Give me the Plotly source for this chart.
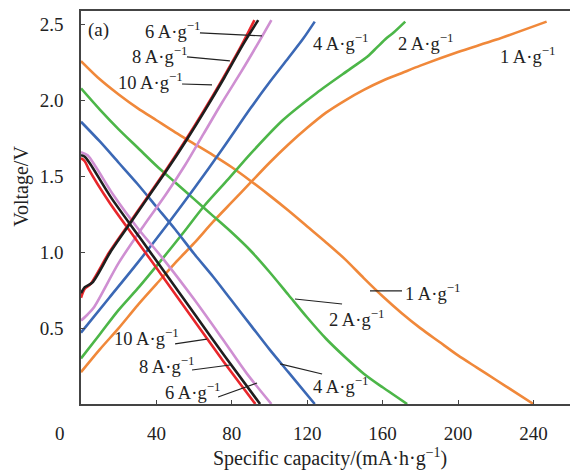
import plotly.graph_objects as go

# ---------------- data ----------------
# 1 A/g (orange)
c1_chg_x = [0, 10, 20, 30, 40, 50, 60, 70, 80, 90, 100, 110, 120, 130, 140, 150, 160, 170, 180, 200, 220, 247]
c1_chg_v = [0.21, 0.36, 0.50, 0.65, 0.79, 0.93, 1.06, 1.20, 1.33, 1.46, 1.59, 1.71, 1.82, 1.92, 2.00, 2.07, 2.13, 2.18, 2.23, 2.32, 2.40, 2.52]
c1_dis_x = [0, 10, 20, 30, 40, 50, 60, 70, 80, 90, 100, 110, 120, 130, 140, 150, 160, 170, 180, 190, 200, 210, 220, 230, 240]
c1_dis_v = [2.26, 2.14, 2.04, 1.95, 1.87, 1.79, 1.715, 1.64, 1.56, 1.47, 1.375, 1.275, 1.17, 1.065, 0.955, 0.83, 0.71, 0.60, 0.50, 0.41, 0.32, 0.24, 0.16, 0.08, 0.0]
# 2 A/g (green)
c2_chg_x = [0, 10, 20, 30, 44, 55, 65, 78, 90, 107, 125, 143, 152, 157, 162, 166, 172]
c2_chg_v = [0.30, 0.46, 0.62, 0.76, 0.97, 1.14, 1.30, 1.48, 1.65, 1.87, 2.05, 2.21, 2.29, 2.35, 2.41, 2.45, 2.52]
c2_dis_x = [0, 10, 20, 30, 40, 50, 60, 70, 80, 90, 100, 110, 120, 130, 140, 150, 160, 173]
c2_dis_v = [2.08, 1.94, 1.81, 1.69, 1.57, 1.46, 1.35, 1.24, 1.13, 1.01, 0.87, 0.72, 0.57, 0.43, 0.31, 0.20, 0.11, 0.0]
# 4 A/g (blue)
c4_chg_x = [0, 15, 30, 45, 60, 75, 90, 100, 110, 118, 124]
c4_chg_v = [0.47, 0.70, 0.93, 1.17, 1.42, 1.68, 1.95, 2.12, 2.28, 2.41, 2.52]
c4_dis_x = [0, 10, 20, 30, 40, 50, 60, 70, 80, 90, 100, 110, 124]
c4_dis_v = [1.86, 1.73, 1.59, 1.45, 1.30, 1.15, 0.99, 0.84, 0.68, 0.52, 0.36, 0.21, 0.0]
# 6 A/g (violet)
c6_chg_x = [0, 3.5, 7, 20, 33, 45, 55, 65, 75, 85, 95, 101]
c6_chg_v = [0.55, 0.59, 0.64, 0.93, 1.17, 1.38, 1.57, 1.78, 1.99, 2.19, 2.40, 2.53]
c6_dis_x = [0, 3.5, 8, 17, 30, 44, 60, 75, 88, 101]
c6_dis_v = [1.66, 1.64, 1.56, 1.38, 1.16, 0.95, 0.69, 0.43, 0.20, 0.0]
# 8 A/g (black)
c8_chg_x = [0, 2, 6, 16, 26, 36, 46, 56, 66, 76, 86, 94]
c8_chg_v = [0.73, 0.77, 0.80, 1.01, 1.19, 1.37, 1.55, 1.74, 1.94, 2.15, 2.37, 2.53]
c8_dis_x = [0, 2, 5, 16, 31, 46, 61, 76, 95]
c8_dis_v = [1.64, 1.63, 1.58, 1.36, 1.10, 0.84, 0.58, 0.32, 0.0]
# 10 A/g (red)
c10_chg_x = [0, 2, 5, 15, 25, 35, 45, 55, 65, 75, 85, 92]
c10_chg_v = [0.70, 0.76, 0.79, 1.00, 1.18, 1.36, 1.54, 1.73, 1.93, 2.14, 2.36, 2.53]
c10_dis_x = [0, 2, 4, 15, 30, 45, 60, 75, 92.5]
c10_dis_v = [1.62, 1.60, 1.55, 1.33, 1.07, 0.81, 0.55, 0.29, 0.0]

x_ticks = [40, 80, 120, 160, 200, 240]
y_ticks = [0.5, 1.0, 1.5, 2.0, 2.5]
y_tick_text = ["0.5", "1.0", "1.5", "2.0", "2.5"]

ORANGE = "#F0883A"
GREEN = "#4CB648"
BLUE = "#3B68B5"
VIOLET = "#CF8FD2"
BLACK = "#1E1E1E"
RED = "#E8262B"

series = [
    (c1_chg_x, c1_chg_v, ORANGE), (c1_dis_x, c1_dis_v, ORANGE),
    (c2_chg_x, c2_chg_v, GREEN), (c2_dis_x, c2_dis_v, GREEN),
    (c4_chg_x, c4_chg_v, BLUE), (c4_dis_x, c4_dis_v, BLUE),
    (c6_chg_x, c6_chg_v, VIOLET), (c6_dis_x, c6_dis_v, VIOLET),
    (c10_chg_x, c10_chg_v, RED), (c10_dis_x, c10_dis_v, RED),
    (c8_chg_x, c8_chg_v, BLACK), (c8_dis_x, c8_dis_v, BLACK),
]

fig = go.Figure()
for xs, vs, col in series:
    fig.add_trace(go.Scatter(x=xs, y=vs, mode="lines",
                             line=dict(color=col, width=2.6, shape="spline", smoothing=0.8),
                             showlegend=False, hoverinfo="skip"))

FONT = "Liberation Serif"
TXT = "#222"
lab = "A·g<sup>−1</sup>"
labels = [
    ("6 " + lab, 48.8, 2.465, (63.1, 2.446, 96.0, 2.426)),
    ("8 " + lab, 41.9, 2.30, (56.2, 2.288, 79.0, 2.261)),
    ("10 " + lab, 37.1, 2.129, (53.6, 2.109, 69.5, 2.103)),
    ("4 " + lab, 137.4, 2.386, None),
    ("2 " + lab, 182.5, 2.386, None),
    ("1 " + lab, 237.1, 2.30, None),
    ("1 " + lab, 186.2, 0.738, (153.3, 0.745, 170.3, 0.745)),
    ("2 " + lab, 146.4, 0.567, (113.5, 0.692, 138.5, 0.659)),
    ("4 " + lab, 137.4, 0.125, (105.6, 0.264, 127.9, 0.198)),
    ("10 " + lab, 34.5, 0.442, (49.9, 0.396, 66.8, 0.428)),
    ("8 " + lab, 45.1, 0.257, (58.9, 0.224, 79.0, 0.257)),
    ("6 " + lab, 58.9, 0.086, (72.7, 0.046, 93.4, 0.138)),
]
for txt, ax_, ay_, ln in labels:
    fig.add_annotation(x=ax_, y=ay_, text=txt, showarrow=False,
                       font=dict(family=FONT, size=18.5, color=TXT),
                       xanchor="center", yanchor="middle")
    if ln:
        fig.add_shape(type="line", x0=ln[0], y0=ln[1], x1=ln[2], y1=ln[3],
                      line=dict(color=TXT, width=1.2))

fig.add_annotation(x=9.5, y=2.465, text="(a)", showarrow=False,
                   font=dict(family=FONT, size=19, color=TXT),
                   xanchor="center", yanchor="middle")

# shared origin label, axis titles
fig.add_annotation(xref="paper", yref="paper", x=-0.043, y=-0.074, text="0",
                   showarrow=False, font=dict(family=FONT, size=19, color=TXT),
                   xanchor="center", yanchor="middle")
fig.add_annotation(xref="paper", yref="paper", x=0.509, y=-0.136,
                   text="Specific capacity/(mA·h·g<sup>−1</sup>)",
                   showarrow=False, font=dict(family=FONT, size=20, color=TXT),
                   xanchor="center", yanchor="middle")
fig.add_annotation(xref="paper", yref="paper", x=-0.1207, y=0.555,
                   text="Voltage/V", textangle=-90,
                   showarrow=False, font=dict(family=FONT, size=20, color=TXT),
                   xanchor="center", yanchor="middle")

fig.update_layout(
    width=570, height=472,
    margin=dict(l=81, r=0, t=11, b=68),
    paper_bgcolor="white", plot_bgcolor="white",
    font=dict(family=FONT, size=19, color=TXT),
    xaxis=dict(range=[0, 259.4], tickvals=x_ticks, ticks="inside", ticklen=4,
               tickcolor="#444", showline=True, linecolor="#444", linewidth=1.5,
               mirror=True, showgrid=False, zeroline=False,
               ticklabelstandoff=11),
    yaxis=dict(range=[0, 2.59], tickvals=y_ticks, ticktext=y_tick_text,
               ticks="inside", ticklen=4, tickcolor="#444", showline=True,
               linecolor="#444", linewidth=1.5, showgrid=False, zeroline=False,
               ticklabelstandoff=12),
)

fig.write_html("out.html")
